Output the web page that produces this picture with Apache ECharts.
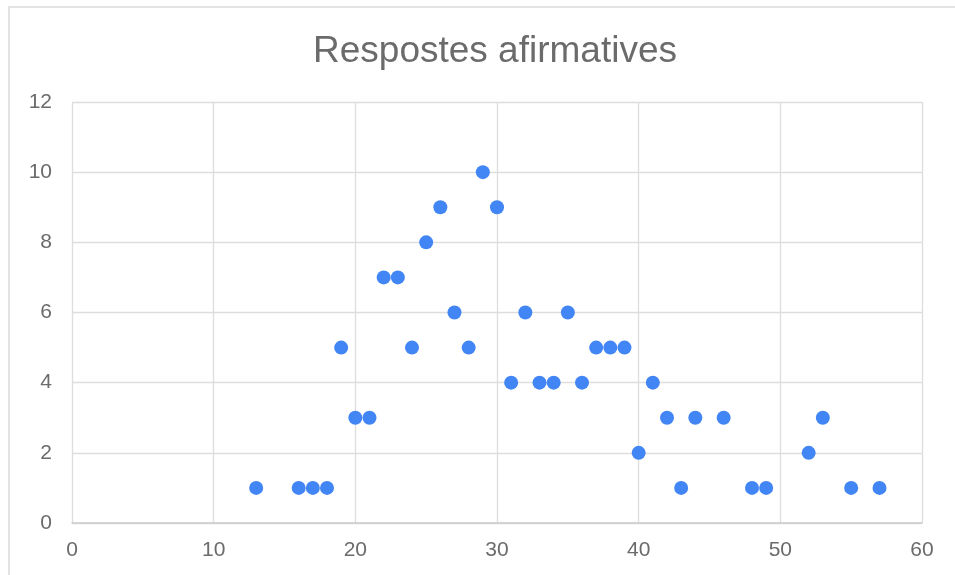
<!DOCTYPE html>
<html><head><meta charset="utf-8">
<script src="https://cdn.jsdelivr.net/npm/echarts@6/dist/echarts.min.js"></script>
<style>
html,body{margin:0;padding:0;background:#fff;}
#frame{position:absolute;left:8px;top:6px;width:960px;height:580px;border-left:2px solid #e3e3e3;border-top:2px solid #e3e3e3;box-sizing:border-box;}
#c{position:absolute;left:0;top:0;width:955px;height:575px;}
</style></head>
<body>
<div id="frame"></div>
<div id="c"></div>
<script>
const xValues = [13,16,17,18,19,20,21,22,23,24,25,26,27,28,29,30,31,32,33,34,35,36,37,38,39,40,41,42,43,44,46,48,49,52,53,55,57];
const yValues = [1,1,1,1,5,3,3,7,7,5,8,9,6,5,10,9,4,6,4,4,6,4,5,5,5,2,4,3,1,3,3,1,1,2,3,1,1];
const titleText = 'Respostes afirmatives';

const chart = echarts.init(document.getElementById('c'), null, {renderer:'canvas'});
const lbl = {color:'#6b6b6b', fontSize:21, fontFamily:'"Liberation Sans", Arial, sans-serif'};
chart.setOption({
  animation:false,
  title:{text:titleText, left:490, textAlign:'center', top:28,
    textStyle:{color:'#6b6b6b', fontSize:37, fontWeight:'normal', fontFamily:'"Liberation Sans", Arial, sans-serif'}},
  grid:{left:72, right:33, top:102, bottom:52, containLabel:false},
  xAxis:{type:'value', min:0, max:60, interval:10,
    axisLine:{show:true, lineStyle:{color:'#ccc', width:1.5}},
    axisTick:{show:false},
    axisLabel:Object.assign({margin:17}, lbl),
    splitLine:{show:true, lineStyle:{color:'#ddd', width:1.3}}},
  yAxis:{type:'value', min:0, max:12, interval:2,
    axisLine:{show:false},
    axisTick:{show:false},
    axisLabel:Object.assign({margin:20}, lbl),
    splitLine:{show:true, lineStyle:{color:'#ddd', width:1.3}}},
  series:[{type:'scatter', symbolSize:14,
    itemStyle:{color:'#4285F4', opacity:1},
    data:xValues.map((x,i)=>[x, yValues[i]])}]
});
</script>
</body></html>
